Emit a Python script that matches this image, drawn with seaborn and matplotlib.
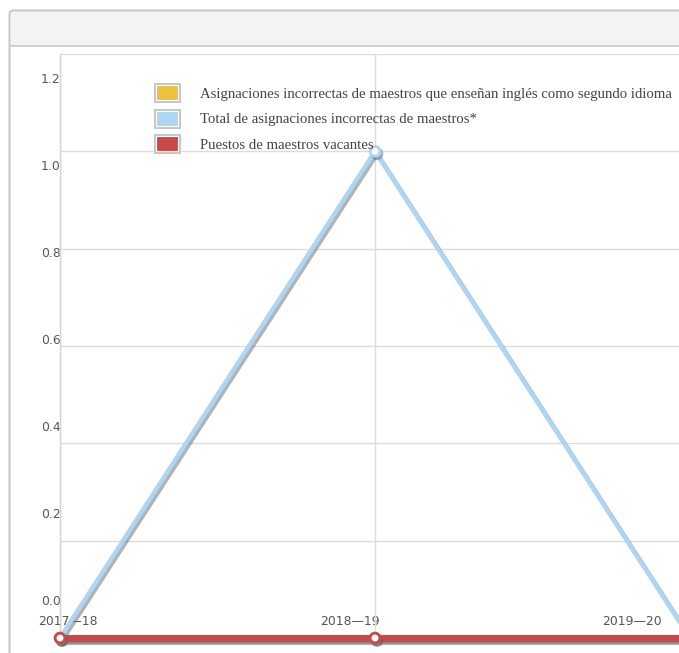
import matplotlib
matplotlib.use("Agg")
import matplotlib.pyplot as plt
import matplotlib.patheffects as pe
from matplotlib.patches import Patch, FancyBboxPatch, Rectangle
from matplotlib.lines import Line2D
import seaborn as sns
import numpy as np

# ---- data ----
categories = ["2017\u201418", "2018\u201419", "2019\u201420"]
series_names = [
    "Asignaciones incorrectas de maestros que enseñan inglés como segundo idioma",
    "Total de asignaciones incorrectas de maestros*",
    "Puestos de maestros vacantes",
]
esl_misassign = [0, 0, 0]
total_misassign = [0, 1, 0]
vacancies = [0, 0, 0]
y_ticks = [0.0, 0.2, 0.4, 0.6, 0.8, 1.0, 1.2]

colors = ["#eec040", "#acd6f4", "#cc4848"]

sns.set_style("white")
W, H = 679, 653
fig = plt.figure(figsize=(W / 100, H / 100), dpi=100)
fig.patch.set_facecolor("white")


def fx(px):
    return px / W


def fy(py):
    return 1 - py / H


# panel frame and header
panel = FancyBboxPatch((fx(9.5), fy(720)), fx(800), fy(10.5) - fy(720),
                       boxstyle="round,pad=0,rounding_size=0.006",
                       transform=fig.transFigure, facecolor="white",
                       edgecolor="#c4c4c4", linewidth=1.4, zorder=-10)
fig.patches.append(panel)
header = Rectangle((fx(10.5), fy(46)), fx(800), fy(11.5) - fy(46),
                   transform=fig.transFigure, facecolor="#f3f3f3",
                   edgecolor="none", zorder=-9)
fig.patches.append(header)
fig.add_artist(Line2D([fx(10), fx(700)], [fy(46), fy(46)], transform=fig.transFigure,
                      color="#c8c8c8", lw=1.2, zorder=-8))

# main plotting axes (extends past the right edge like the reference)
ax = fig.add_axes([fx(60), fy(638), fx(690) - fx(60), fy(54) - fy(638)], zorder=2)
ax.patch.set_alpha(0)
x_pos = np.arange(len(categories))
ax.set_xlim(0, len(categories) - 1)
ax.set_ylim(0, 1.2)
for s in ["right", "bottom", "top"]:
    ax.spines[s].set_visible(False)
ax.spines["left"].set_color("#d4d4d4")
ax.spines["left"].set_linewidth(1.0)
ax.set_yticks(y_ticks)
ax.set_xticks(x_pos)
ax.grid(True, color="#dcdcdc", linewidth=1.0)
ax.tick_params(length=0, labelleft=False, labelbottom=False)
ax.set_axisbelow(True)

shadow = [pe.SimpleLineShadow(offset=(1.5, -1.8), shadow_color="#666666", alpha=0.5), pe.Normal()]

sns.lineplot(x=x_pos, y=esl_misassign, ax=ax, color=colors[0], linewidth=4,
             marker="o", markersize=7, markerfacecolor="white", markeredgecolor=colors[0],
             markeredgewidth=2, legend=False, clip_on=False, zorder=3, path_effects=shadow)
sns.lineplot(x=x_pos, y=total_misassign, ax=ax, color=colors[1], linewidth=3.2,
             marker="o", markersize=7, markerfacecolor="white", markeredgecolor=colors[1],
             markeredgewidth=2, legend=False, clip_on=False, zorder=4, path_effects=shadow)
sns.lineplot(x=x_pos, y=vacancies, ax=ax, color=colors[2], linewidth=5.2,
             marker="o", markersize=7, markerfacecolor="white", markeredgecolor=colors[2],
             markeredgewidth=2, legend=False, clip_on=False, zorder=5, path_effects=shadow)
ax.set_xlabel("")
ax.set_ylabel("")

# label axes (tick labels sit on a slightly compressed scale, as in the reference)
lab = fig.add_axes([fx(60), fy(600), fx(679) - fx(60), fy(78) - fy(600)], zorder=1)
lab.patch.set_alpha(0)
for s in lab.spines.values():
    s.set_visible(False)
lab.set_xlim(-8 / 282, (679 - 68) / 282)
lab.set_ylim(0, 1.2)
lab.set_yticks(y_ticks)
lab.set_yticklabels([f"{v:.1f}" for v in y_ticks])
lab.set_xticks(x_pos)
lab.set_xticklabels(categories)
lab.tick_params(length=0, labelsize=8.9, labelcolor="#555555")
lab.tick_params(axis="y", pad=-0.5)
lab.tick_params(axis="x", pad=11)
for t in lab.get_xticklabels() + lab.get_yticklabels():
    t.set_fontfamily("DejaVu Sans")

# legend
handles = [Patch(facecolor=c, edgecolor="white", linewidth=0.8,
                 path_effects=[pe.withStroke(linewidth=3.6, foreground="#c6c6c6")])
           for c in colors]
leg = ax.legend(handles, series_names, loc="upper left",
                bbox_to_anchor=(fx(156), fy(85)), bbox_transform=fig.transFigure,
                frameon=False, prop={"family": "Liberation Serif", "size": 10.6},
                handlelength=1.5, handleheight=1.2, handletextpad=1.5,
                labelspacing=0.68, borderpad=0, borderaxespad=0)
for t in leg.get_texts():
    t.set_color("#444444")
leg.set_zorder(10)

fig.savefig("out.png", dpi=100)
